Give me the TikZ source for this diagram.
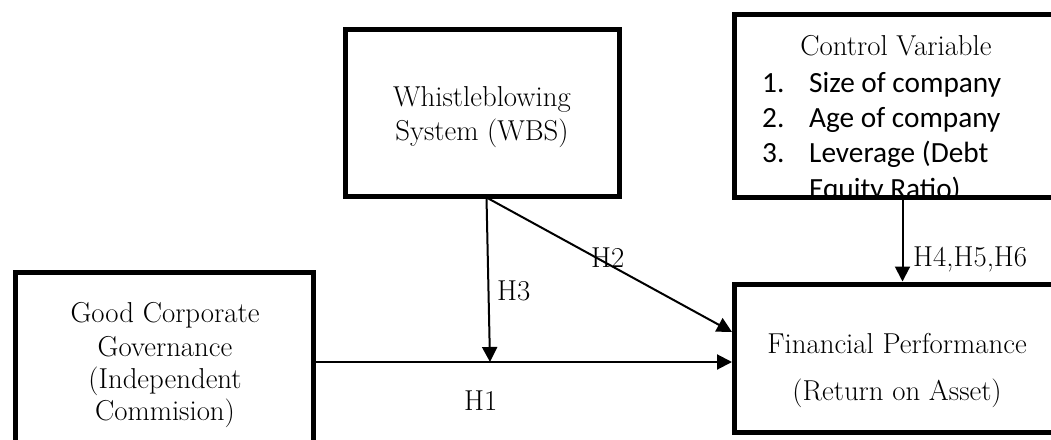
\documentclass[tikz,border=0pt]{standalone}
\usepackage{fontspec}
\newfontfamily\calibri{Carlito}
\usetikzlibrary{arrows.meta}
\begin{document}
\begin{tikzpicture}[x=1pt,y=-1pt,
  box/.style={draw,line width=5pt,inner sep=0pt,outer sep=0pt},
  arr/.style={line width=2pt,-{Triangle[length=15pt,width=15pt]}},
  txt/.style={font=\fontsize{28.8}{34}\selectfont,inner sep=0pt,anchor=base},
  txtw/.style={font=\fontsize{28.8}{34}\selectfont,inner sep=0pt,anchor=base west},
  lst/.style={font=\calibri\fontsize{29.3}{35}\selectfont,inner sep=0pt,anchor=base west}]
\useasboundingbox (0,0) rectangle (1051,439);
\clip (0,0) rectangle (1051,439);
% boxes
\node[box,minimum width=274pt,minimum height=167pt] (wbs) at (482.5,113) {};
\node[box,minimum width=326pt,minimum height=182.5pt] (ctrl) at (897.5,105.75) {};
\node[box,minimum width=326pt,minimum height=148.5pt] (fp) at (897.5,358.25) {};
\node[box,minimum width=297.5pt,minimum height=184pt] (gcg) at (164.25,364) {};
% WBS text
\node[txt] (w1) at (482,106) {Whistleblowing};
\node[txt] (w2) at (482,140) {System (WBS)};
% GCG text
\node[txt] (g1) at (165,322.5) {Good Corporate};
\node[txt] (g2) at (165,356) {Governance};
\node[txt] (g3) at (165,388.5) {(Independent};
\node[txt] (g4) at (165,420.5) {Commision)};
% FP text
\node[txt] (f1) at (897,353) {Financial Performance};
\node[txt] (f2) at (897,400) {(Return on Asset)};
% control text
\begin{scope}
\clip (734.5,14.5) rectangle (1060,197);
\node[txt] (c0) at (896,55) {Control Variable};
\node[lst] (n1) at (762,92) {1.};
\node[lst] (n2) at (762,127) {2.};
\node[lst] (n3) at (762,162.5) {3.};
\node[lst] (i1) at (809,92) {Size of company};
\node[lst] (i2) at (809,127) {Age of company};
\node[lst] (i3) at (809,162.5) {Leverage (Debt};
\node[lst] (i4) at (809,198) {Equity Ratio)};
\end{scope}
% connector points
\coordinate (ws) at (486.5,197.5);
\coordinate (h3e) at (490,362);
\coordinate (h1y) at (0,362);
\coordinate (h2y) at (0,332);
\coordinate (cx) at (902.5,0);
% connectors
\draw[arr] (gcg.east |- h1y) -- ([xshift=-2.5pt]fp.west |- h1y);
\draw[arr] (ws) -- (h3e);
\draw[arr] (ws) -- ([xshift=-2.5pt]fp.west |- h2y);
\draw[arr] (cx |- ctrl.south) -- ([yshift=2.5pt]cx |- fp.north);
% labels
\node[txtw] (lh1) at (464,410) {H1};
\node[txtw] (lh2) at (591,267) {H2};
\node[txtw] (lh3) at (497,300) {H3};
\node[txtw] (lh4) at (913,266) {H4,H5,H6};
\end{tikzpicture}
\end{document}
